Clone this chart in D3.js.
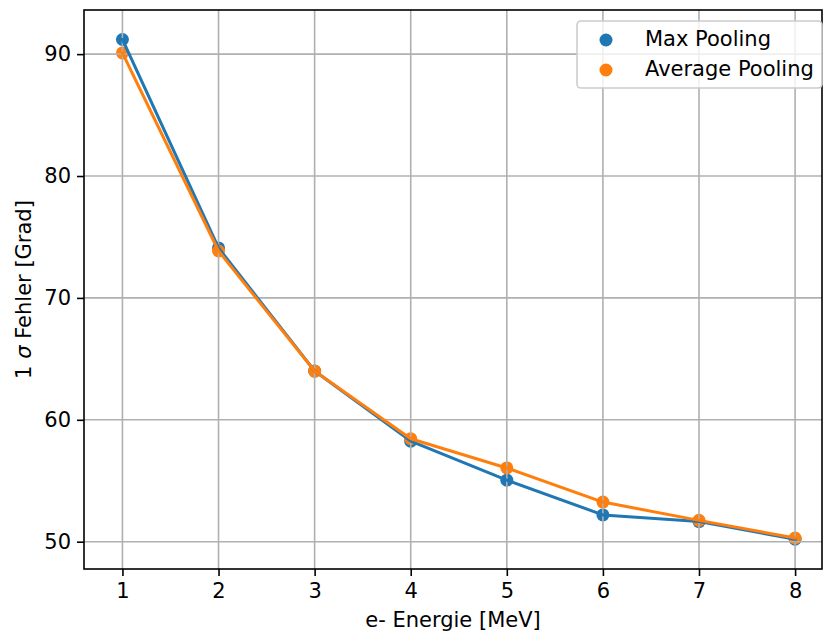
<!DOCTYPE html>
<html>
<head>
<meta charset="utf-8">
<script src="https://cdn.jsdelivr.net/npm/d3@7"></script>
<style>
  body { margin: 0; background: #fff; }
  svg { font-family: "DejaVu Sans", sans-serif; }
</style>
</head>
<body>
<div id="chart"></div>
<script>
// energies in MeV and the 1 sigma error in degrees
var energies = [1, 2, 3, 4, 5, 6, 7, 8];
var maxPooling = [91.2, 74.1, 64.0, 58.25, 55.05, 52.2, 51.65, 50.2];
var avgPooling = [90.1, 73.85, 64.0, 58.45, 56.05, 53.25, 51.75, 50.3];
var xTicks = [1, 2, 3, 4, 5, 6, 7, 8];
var yTicks = [50, 60, 70, 80, 90];
var seriesNames = ["Max Pooling", "Average Pooling"];
var colors = ["#1f77b4", "#ff7f0e"];

var width = 824, height = 635;
var pLeft = 84, pRight = 822, pTop = 10, pBottom = 569;
var fs = "21px";

var svg = d3.select("#chart").append("svg")
  .attr("width", width)
  .attr("height", height);

var x = d3.scaleLinear().domain([0.6, 8.28]).range([pLeft, pRight]);
var y = d3.scaleLinear().domain([47.76, 93.62]).range([pBottom, pTop]);

// scatter points first (matplotlib draws collections below lines)
var allSeries = [maxPooling, avgPooling];
allSeries.forEach(function(vals, i) {
  svg.append("g").selectAll("circle")
    .data(vals)
    .enter().append("circle")
    .attr("cx", function(d, j) { return x(energies[j]); })
    .attr("cy", function(d) { return y(d); })
    .attr("r", 6.5)
    .attr("fill", colors[i]);
});

// grid
var grid = svg.append("g");
grid.selectAll("line.gx")
  .data(xTicks)
  .enter().append("line")
  .attr("x1", function(d) { return x(d); })
  .attr("x2", function(d) { return x(d); })
  .attr("y1", pTop)
  .attr("y2", pBottom)
  .attr("stroke", "#b0b0b0")
  .attr("stroke-width", 1.6);
grid.selectAll("line.gy")
  .data(yTicks)
  .enter().append("line")
  .attr("y1", function(d) { return y(d); })
  .attr("y2", function(d) { return y(d); })
  .attr("x1", pLeft)
  .attr("x2", pRight)
  .attr("stroke", "#b0b0b0")
  .attr("stroke-width", 1.6);

var line = d3.line()
  .x(function(d, j) { return x(energies[j]); })
  .y(function(d) { return y(d); });

allSeries.forEach(function(vals, i) {
  svg.append("path")
    .datum(vals)
    .attr("d", line)
    .attr("fill", "none")
    .attr("stroke", colors[i])
    .attr("stroke-width", 3)
    .attr("stroke-linejoin", "round")
    .attr("stroke-linecap", "square");
});

// axes
var xAxis = svg.append("g")
  .attr("transform", "translate(0," + pBottom + ")")
  .call(d3.axisBottom(x).tickValues(xTicks).tickSize(7).tickPadding(7).tickFormat(d3.format("d")));
var yAxis = svg.append("g")
  .attr("transform", "translate(" + pLeft + ",0)")
  .call(d3.axisLeft(y).tickValues(yTicks).tickSize(7).tickPadding(6).tickFormat(d3.format("d")));

[xAxis, yAxis].forEach(function(ax) {
  ax.select(".domain").remove();
  ax.selectAll(".tick line").attr("stroke", "#000").attr("stroke-width", 1.6);
  ax.selectAll(".tick text")
    .attr("fill", "#000")
    .style("font-size", fs)
    .style("font-family", "DejaVu Sans");
});

// frame
svg.append("rect")
  .attr("x", pLeft)
  .attr("y", pTop)
  .attr("width", pRight - pLeft)
  .attr("height", pBottom - pTop)
  .attr("fill", "none")
  .attr("stroke", "#000")
  .attr("stroke-width", 1.6);

// axis labels
svg.append("text")
  .attr("x", (pLeft + pRight) / 2)
  .attr("y", 627)
  .attr("text-anchor", "middle")
  .style("font-size", fs)
  .text("e- Energie [MeV]");

var yl = svg.append("text")
  .attr("transform", "translate(31," + ((pTop + pBottom) / 2) + ") rotate(-90)")
  .attr("text-anchor", "middle")
  .style("font-size", fs);
yl.append("tspan").text("1 ");
yl.append("tspan").style("font-style", "italic").text("σ");
yl.append("tspan").text(" Fehler [Grad]");

// legend
var legend = svg.append("g");
legend.append("rect")
  .attr("x", 577)
  .attr("y", 21)
  .attr("width", 245)
  .attr("height", 67)
  .attr("rx", 4)
  .attr("fill", "#fff")
  .attr("fill-opacity", 0.8)
  .attr("stroke", "#cccccc")
  .attr("stroke-width", 1.6);

seriesNames.forEach(function(name, i) {
  legend.append("circle")
    .attr("cx", 606)
    .attr("cy", 40 + i * 30)
    .attr("r", 6.5)
    .attr("fill", colors[i]);
  legend.append("text")
    .attr("x", 645)
    .attr("y", 46 + i * 30)
    .style("font-size", fs)
    .text(name);
});
</script>
</body>
</html>
